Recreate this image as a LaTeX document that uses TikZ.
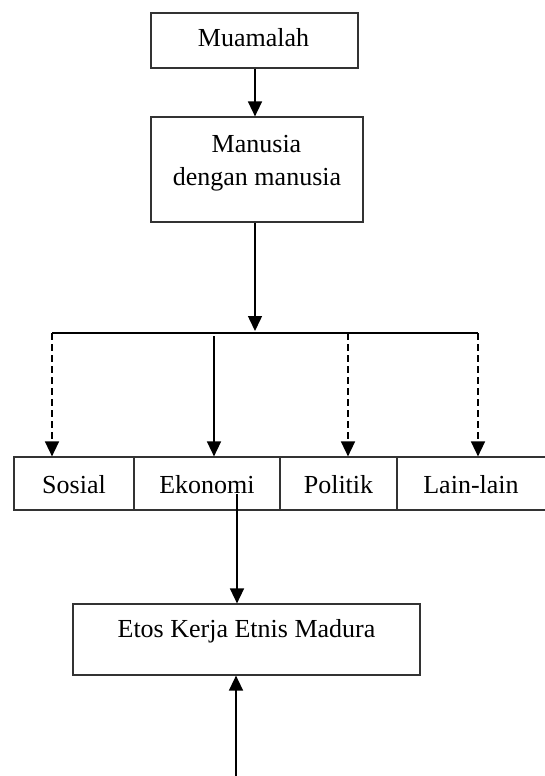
\documentclass[tikz,border=0pt]{standalone}
\usepackage{fontspec}
\setmainfont{Liberation Serif}
\usetikzlibrary{arrows.meta}
\tikzset{
  boxst/.style={draw=black!80, line width=1.2pt, inner sep=0pt, minimum width=#1},
  lbl/.style={font=\fontsize{26}{33}\selectfont, anchor=base, inner sep=0pt},
  conn/.style={line width=1.5pt, draw=black},
  arr/.style={conn, -{Triangle[width=14pt,length=15pt]}},
  dsh/.style={arr, dash pattern=on 7pt off 4pt}
}
\begin{document}
\begin{tikzpicture}[x=1pt,y=-1pt]
\useasboundingbox (0,0) rectangle (545,776);
% boxes
\node[boxst=207pt, minimum height=55pt] (muam) at (254.5,40.5) {};
\node[boxst=212pt, minimum height=105pt] (manu) at (257,169.5) {};
\node[boxst=120pt, minimum height=53pt] (sos) at (74,483.5) {};
\node[boxst=146pt, minimum height=53pt] (eko) at (207,483.5) {};
\node[boxst=117pt, minimum height=53pt] (pol) at (338.5,483.5) {};
\node[boxst=149pt, minimum height=53pt] (lain) at (471.5,483.5) {};
\node[boxst=347pt, minimum height=71pt] (etos) at (246.5,639.5) {};
% texts
\node[lbl] (tmuam) at (253.5,47) {Muamalah};
\node[lbl] (tmanu1) at (256.5,152) {Manusia};
\node[lbl] (tmanu2) at (257,185) {dengan manusia};
\node[lbl] (tsos) at (74,493) {Sosial};
\node[lbl] (teko) at (207,493) {Ekonomi};
\node[lbl] (tpol) at (338.5,493) {Politik};
\node[lbl] (tlain) at (471,493) {Lain-lain};
\node[lbl] (tetos) at (246.5,637) {Etos Kerja Etnis Madura};
% coordinates
\coordinate (jn) at (255,333);
\coordinate (hl) at (52,333);
\coordinate (hr) at (478,333);
\coordinate (hp) at (348,333);
\coordinate (ek) at (214,336);
\coordinate (ekout) at (237,494);
\coordinate (bot) at (236,777);
% connectors
\draw[arr] (muam.south -| jn) -- (manu.north -| jn);
\draw[arr] (manu.south -| jn) -- ([yshift=2pt]jn);
\draw[conn] (hl) -- (hr);
\draw[dsh] (hl) -- (sos.north -| hl);
\draw[dsh] (hp) -- (pol.north -| hp);
\draw[dsh] (hr) -- (lain.north -| hr);
\draw[arr] (ek) -- (eko.north -| ek);
\draw[arr] (ekout) -- (etos.north -| ekout);
\draw[arr] (bot) -- (etos.south -| bot);
\end{tikzpicture}
\end{document}
